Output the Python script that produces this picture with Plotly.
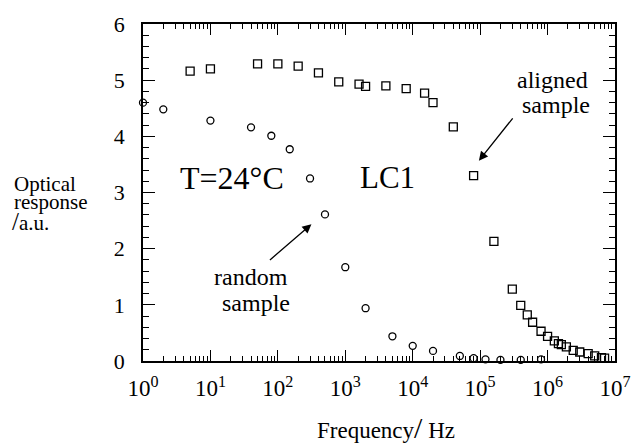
import plotly.graph_objects as go

# ---- data ----
random_freq = [1, 2, 10, 40, 80, 150, 300, 500, 1000, 2000, 5000, 1e4, 2e4,
               5e4, 8e4, 1.2e5, 2e5, 4e5, 8e5]
random_resp = [4.60, 4.48, 4.28, 4.16, 4.01, 3.77, 3.25, 2.61, 1.67, 0.94,
               0.44, 0.27, 0.18, 0.09, 0.05, 0.03, 0.02, 0.02, 0.03]

aligned_freq = [5, 10, 50, 100, 200, 400, 800, 1600, 2000, 4000, 8000, 1.5e4,
                2e4, 4e4, 8e4, 1.6e5, 3e5, 4e5, 5e5, 6e5, 8e5, 1e6, 1.26e6,
                1.45e6, 1.6e6, 1.9e6, 2.4e6, 3e6, 4e6, 5e6, 6.3e6, 7e6]
aligned_resp = [5.16, 5.20, 5.29, 5.29, 5.25, 5.13, 4.97, 4.93, 4.89, 4.90,
                4.85, 4.77, 4.60, 4.17, 3.30, 2.13, 1.28, 0.99, 0.82, 0.69,
                0.53, 0.44, 0.36, 0.31, 0.29, 0.25, 0.19, 0.16, 0.13, 0.09,
                0.06, 0.05]

x_exponents = [0, 1, 2, 3, 4, 5, 6, 7]
y_ticks = [0, 1, 2, 3, 4, 5, 6]

FONT = "Liberation Serif"
W, H = 643, 443
L, R, T, B = 143, 625, 21, 361


def px(x):
    return (x - L) / (R - L)


def py(y):
    return (B - y) / (B - T)


fig = go.Figure()
fig.add_trace(go.Scatter(
    x=random_freq, y=random_resp, mode="markers", cliponaxis=False,
    marker=dict(symbol="circle-open", size=7, color="black",
                line=dict(width=1.3, color="black")),
    showlegend=False))
fig.add_trace(go.Scatter(
    x=aligned_freq, y=aligned_resp, mode="markers", cliponaxis=False,
    marker=dict(symbol="square-open", size=8, color="black",
                line=dict(width=1.3, color="black")),
    showlegend=False))

axis_common = dict(showline=True, linecolor="black", linewidth=1.5,
                   mirror="ticks", ticks="inside", tickcolor="black",
                   tickwidth=1.2, showgrid=False, zeroline=False)

fig.update_xaxes(
    type="log", range=[0, 7],
    tickvals=[10 ** e for e in x_exponents],
    ticktext=["10<sup>%d</sup>" % e for e in x_exponents],
    ticklen=11, ticklabelstandoff=6,
    tickfont=dict(family=FONT, size=23, color="black"),
    minor=dict(ticks="inside", ticklen=5, tickcolor="black", tickwidth=1,
               dtick="D1", showgrid=False),
    **axis_common)
fig.update_yaxes(
    range=[0, 6], tickvals=y_ticks, ticktext=[str(v) for v in y_ticks],
    ticklen=12, ticklabelstandoff=12,
    tickfont=dict(family=FONT, size=22, color="black"),
    minor=dict(ticks="inside", ticklen=6, tickcolor="black", tickwidth=1,
               dtick=0.2, showgrid=False),
    **axis_common)

ann = []


def text(x, y, s, size, xanchor="center"):
    ann.append(dict(x=px(x), y=py(y), xref="paper", yref="paper", text=s,
                    showarrow=False, xanchor=xanchor, yanchor="middle",
                    font=dict(family=FONT, size=size, color="black")))


text(234, 176, "T=24°C", 32)
text(393, 176, "LC1", 31)
text(561, 78, "aligned", 24)
text(565, 103, "sample", 24)
text(253, 276, "random", 24)
text(258, 302, "sample", 24)
text(9, 182, "Optical", 21, "left")
text(9, 201, "response", 21, "left")
text(7, 220, "<span style='font-size:25px'>/</span>a.u.", 21, "left")
text(391, 428, "Frequency<span style='font-size:30px'>/</span> Hz", 23)

# arrows
for (hx, hy, tx, ty) in [(486, 159, 521, 115), (315, 223, 272, 260)]:
    ann.append(dict(x=px(hx), y=py(hy), xref="paper", yref="paper",
                    ax=tx - hx, ay=ty - hy, axref="pixel", ayref="pixel",
                    showarrow=True, arrowhead=2, arrowsize=1.4,
                    arrowwidth=1.3, arrowcolor="black", text=""))

fig.update_layout(
    width=W, height=H, margin=dict(l=L, r=W - R, t=T, b=H - B),
    paper_bgcolor="white", plot_bgcolor="white", annotations=ann,
    font=dict(family=FONT, color="black"))

fig.write_html("out.html")
